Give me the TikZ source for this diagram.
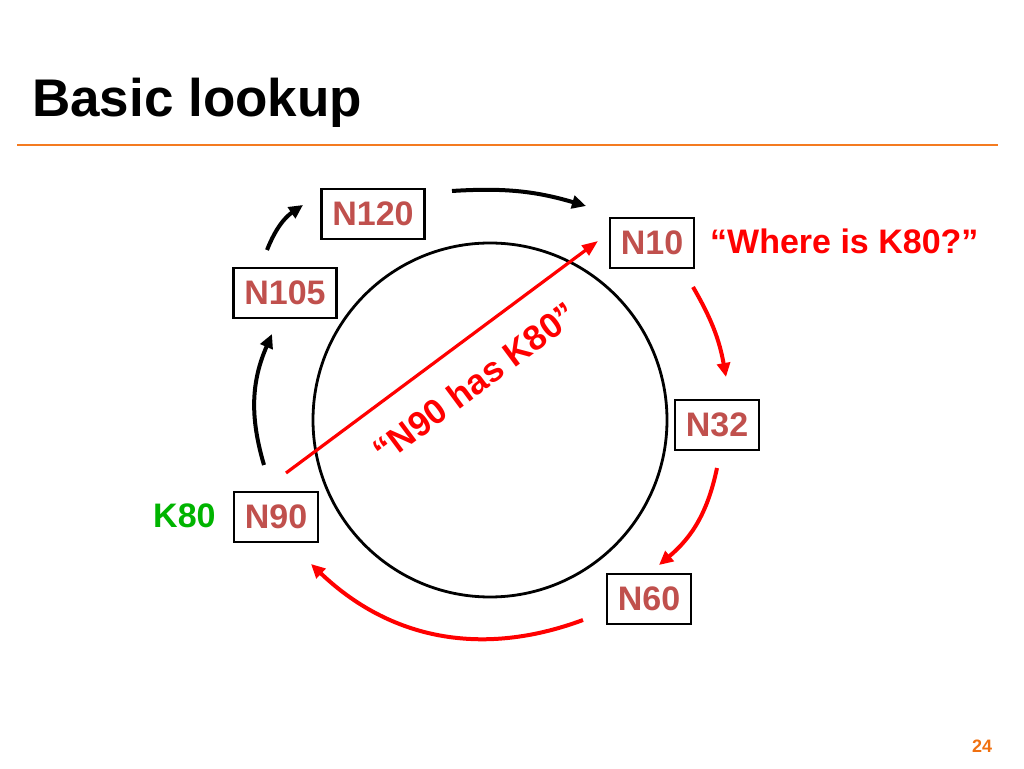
\documentclass[tikz,border=0pt]{standalone}
\usepackage{fontspec}
\setmainfont{Liberation Sans}
\usetikzlibrary{arrows.meta}
\definecolor{nodetxt}{HTML}{C0504D}
\definecolor{orangeline}{HTML}{F47B20}
\definecolor{pagenum}{HTML}{F07010}
\definecolor{kgreen}{HTML}{00B400}
\definecolor{myred}{HTML}{FF0000}
\tikzset{
  peer/.style={draw=black, line width=2.6pt, fill=white, text=nodetxt,
    font=\fontsize{34}{40}\selectfont\bfseries, inner xsep=11pt, inner ysep=0pt,
    minimum height=50pt},
  lbl/.style={font=\fontsize{34}{40}\selectfont\bfseries, inner sep=0pt},
  blackarc/.style={draw=black, line width=4pt, -{Triangle[length=14pt,width=13pt]}},
  redarc/.style={draw=myred, line width=4pt, -{Triangle[length=14pt,width=13pt]}},
  ring/.style={draw=black, line width=2.8pt},
}
\begin{document}
\begin{tikzpicture}[x=1pt,y=1pt]
\useasboundingbox (0,0) rectangle (1024,768);
% title
\node[anchor=base west, inner sep=0pt, font=\fontsize{53}{60}\selectfont\bfseries] (title) at (32,651) {Basic lookup};
\draw[orangeline, line width=2.5pt] (17,623) coordinate (ruleA) -- (998,623) coordinate (ruleB);
% ring
\node[ring, circle, minimum size=354pt, inner sep=0pt] (ring) at (490,348) {};
% peers
\node[peer] (n120) at (373,554) {N120};
\node[peer] (n10)  at (652,525) {N10};
\node[peer] (n105) at (285,475) {N105};
\node[peer] (n32)  at (717,343) {N32};
\node[peer] (n90)  at (276,251) {N90};
\node[peer] (n60)  at (649,169) {N60};
% labels
\node[lbl, text=myred, anchor=base west] (where) at (710,514) {``Where is K80?''};
\node[lbl, text=kgreen, anchor=base west] (k80) at (153,240) {K80};
\node[anchor=base west, inner sep=0pt, text=pagenum, font=\fontsize{18}{22}\selectfont\bfseries] (pnum) at (972,16) {24};
% arc endpoints
\coordinate (a1s) at (267,518); \coordinate (a1e) at (303,563);
\coordinate (a2s) at (452,577); \coordinate (a2e) at (586,562);
\coordinate (a3s) at (264,303); \coordinate (a3e) at (272,434);
\coordinate (a4s) at (693,481); \coordinate (a4e) at (726,391);
\coordinate (a5s) at (717,300); \coordinate (a5e) at (659,203);
\coordinate (a6s) at (583,148); \coordinate (a6e) at (311,204);
\draw[blackarc] (a1s) to[bend left=17] (a1e);
\draw[blackarc] (a2s) to[bend left=10] (a2e);
\draw[blackarc] (a3s) to[bend left=20] (a3e);
\draw[redarc] (a4s) to[bend left=10] (a4e);
\draw[redarc] (a5s) to[bend left=19] (a5e);
\draw[redarc] (a6s) to[bend left=32] (a6e);
% reply
\coordinate (rs) at (286,295);
\coordinate (re) at (598,527);
\draw[myred, line width=3.2pt, -{Triangle[length=16pt,width=12pt]}] (rs) -- (re);
\node[lbl, text=myred, rotate=36.6, font=\fontsize{35}{40}\selectfont\bfseries] (has) at (475,386) {``N90 has K80''};
\end{tikzpicture}
\end{document}
